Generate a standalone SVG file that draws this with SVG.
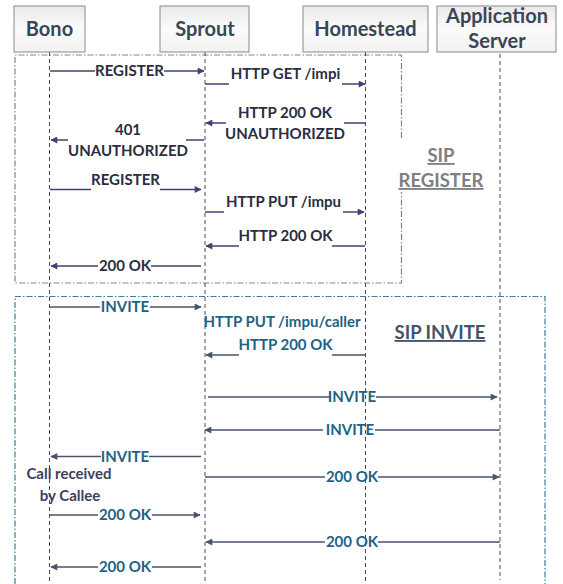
<svg xmlns="http://www.w3.org/2000/svg" width="563" height="584" viewBox="0 0 563 584">
<defs>
<linearGradient id="hdr" x1="0" y1="0" x2="0" y2="1">
<stop offset="0" stop-color="#e9e9e9"/>
<stop offset="0.5" stop-color="#fbfbfb"/>
<stop offset="1" stop-color="#f2f2f2"/>
</linearGradient>
<marker id="ar" viewBox="0 0 10 10" refX="9" refY="5" markerWidth="9" markerHeight="7" markerUnits="userSpaceOnUse" orient="auto">
<path d="M0,0 L10,5 L0,10 z" fill="#3f4470"/>
</marker>
<marker id="ai" viewBox="0 0 10 10" refX="9" refY="5" markerWidth="9" markerHeight="7" markerUnits="userSpaceOnUse" orient="auto">
<path d="M0,0 L10,5 L0,10 z" fill="#4a5568"/>
</marker>
</defs>
<style>
.box{fill:url(#hdr);stroke:#8a8a8a;stroke-width:1}
.hd{font-family:Lato,"Liberation Sans",sans-serif;font-weight:bold;font-size:20px;fill:#3a4555;text-anchor:middle}
.life{stroke:#4a4a4a;stroke-width:1;stroke-dasharray:4,3;fill:none}
.fr{fill:none;stroke:#7d80a6;stroke-width:1.2;stroke-dasharray:6,2,1.5,2}
.fi{fill:none;stroke:#3b7f9c;stroke-width:1.2;stroke-dasharray:6,2,1.5,2}
.mr{stroke:#3f4470;stroke-width:1.5;fill:none}
.mi{stroke:#4a5568;stroke-width:1.5;fill:none}
.tr{font-family:Lato,"Liberation Sans",sans-serif;font-weight:bold;font-size:15px;fill:#2b2d42;text-anchor:middle}
.ti{font-family:Lato,"Liberation Sans",sans-serif;font-weight:bold;font-size:15px;fill:#1d6385;text-anchor:middle}
.tc{font-family:Lato,"Liberation Sans",sans-serif;font-weight:bold;font-size:15px;fill:#3d3f5c;text-anchor:middle}
.sr{font-family:Lato,"Liberation Sans",sans-serif;font-weight:bold;font-size:18.5px;fill:#7f7f7f;text-anchor:middle;text-decoration:underline}
.si{font-family:Lato,"Liberation Sans",sans-serif;font-weight:bold;font-size:18.5px;fill:#44546a;text-anchor:middle;text-decoration:underline}
</style>

<g id="frames">
<path class="fr" d="M401.5,138 V55 H15 V283 H401.5 V192"/>
<path class="fi" d="M15,584 V296.5 H545 V584"/>
</g>

<g id="lifelines">
<line class="life" x1="49.5" y1="52" x2="49.5" y2="584"/>
<line class="life" x1="205" y1="52" x2="205" y2="584"/>
<line class="life" x1="365.5" y1="52" x2="365.5" y2="584"/>
<line class="life" x1="500" y1="54" x2="500" y2="580"/>
</g>

<g id="bono"><rect class="box" x="14" y="6" width="71" height="46"/><text class="hd" x="49.5" y="36">Bono</text></g>
<g id="sprout"><rect class="box" x="160" y="6" width="89" height="46"/><text class="hd" x="205" y="36">Sprout</text></g>
<g id="homestead"><rect class="box" x="303" y="6" width="125" height="46"/><text class="hd" x="365.5" y="36">Homestead</text></g>
<g id="appserver"><rect class="box" x="437" y="6" width="119" height="46"/><text class="hd" x="497" y="23">Application</text><text class="hd" x="497" y="48">Server</text></g>

<g id="connectors">
<!-- register -->
<path class="mr" d="M50,71 H95 M164,71 H204" marker-end="url(#ar)"/>
<path class="mr" d="M205,84 H229 M342,84 H365" marker-end="url(#ar)"/>
<path class="mr" d="M365,123 H344 M226,123 H206" marker-end="url(#ar)"/>
<path class="mr" d="M204,140 H186 M68,140 H51" marker-end="url(#ar)"/>
<path class="mr" d="M50,189.5 H91 M160,189.5 H201" marker-end="url(#ar)"/>
<path class="mr" d="M205,212 H224 M343,212 H364" marker-end="url(#ar)"/>
<path class="mr" d="M365,246 H332 M239,246 H206" marker-end="url(#ar)"/>
<path class="mr" d="M201,266 H151 M98,266 H51" marker-end="url(#ar)"/>
<!-- invite -->
<path class="mi" d="M50,307 H100 M150,307 H201" marker-end="url(#ai)"/>
<path class="mi" d="M365,355 H332 M239,355 H206" marker-end="url(#ai)"/>
<path class="mi" d="M208,397 H330 M376,397 H497" marker-end="url(#ai)"/>
<path class="mi" d="M500,430 H375 M323,430 H205" marker-end="url(#ai)"/>
<path class="mi" d="M201,456.5 H149 M101,456.5 H51" marker-end="url(#ai)"/>
<path class="mi" d="M205,477 H325 M378,477 H499" marker-end="url(#ai)"/>
<path class="mi" d="M50,515 H98 M152,515 H200" marker-end="url(#ai)"/>
<path class="mi" d="M500,542 H378 M325,542 H206" marker-end="url(#ai)"/>
<path class="mi" d="M201,567 H152 M98,567 H51" marker-end="url(#ai)"/>
</g>

<g id="labels">
<text class="tr" x="129.5" y="76">REGISTER</text>
<text class="tr" x="285.5" y="79">HTTP GET /impi</text>
<text class="tr" x="285" y="118">HTTP 200 OK</text>
<text class="tr" x="285" y="138.5">UNAUTHORIZED</text>
<text class="tr" x="128" y="135">401</text>
<text class="tr" x="128" y="155.5">UNAUTHORIZED</text>
<text class="tr" x="125.5" y="185">REGISTER</text>
<text class="tr" x="283.5" y="207">HTTP PUT /impu</text>
<text class="tr" x="285.5" y="241">HTTP 200 OK</text>
<text class="tr" x="125" y="271">200 OK</text>
<text class="sr" x="441" y="162">SIP</text>
<text class="sr" x="441" y="187">REGISTER</text>

<text class="ti" x="125" y="312">INVITE</text>
<text class="ti" x="282" y="327">HTTP PUT /impu/caller</text>
<text class="ti" x="285.5" y="350">HTTP 200 OK</text>
<text class="si" x="440" y="339">SIP INVITE</text>
<text class="ti" x="352" y="402">INVITE</text>
<text class="ti" x="350" y="435">INVITE</text>
<text class="ti" x="125" y="461.5">INVITE</text>
<text class="tc" x="69" y="479">Call received</text>
<text class="tc" x="70" y="501">by Callee</text>
<text class="ti" x="352" y="482">200 OK</text>
<text class="ti" x="125" y="520">200 OK</text>
<text class="ti" x="352" y="547">200 OK</text>
<text class="ti" x="125" y="572">200 OK</text>
</g>
</svg>
